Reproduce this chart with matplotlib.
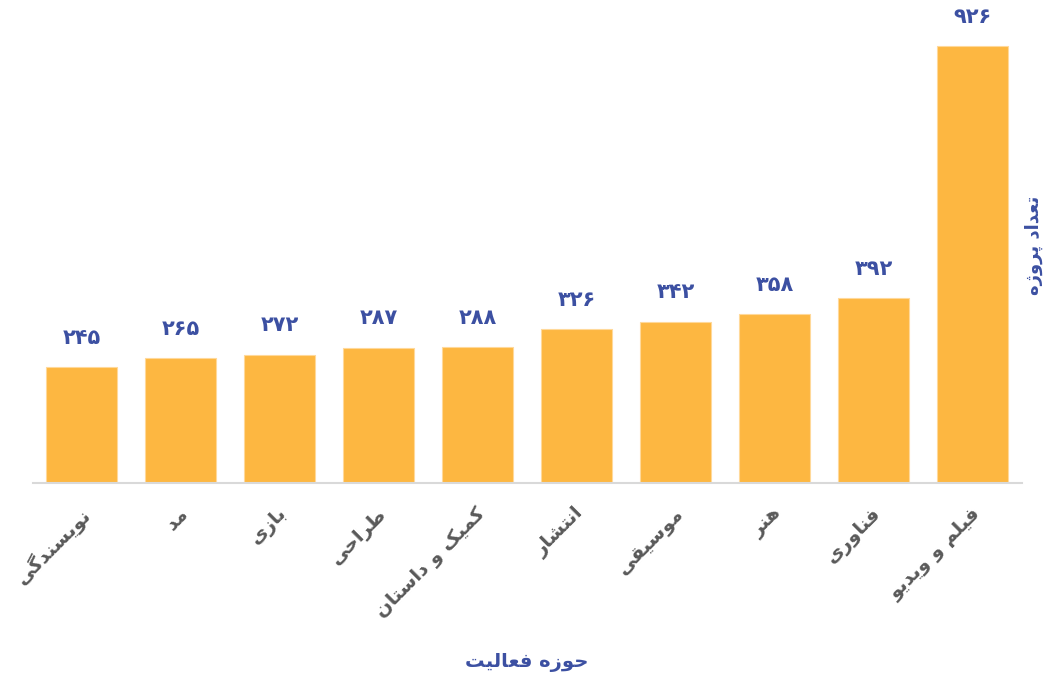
import matplotlib
matplotlib.use("Agg")
import matplotlib.pyplot as plt
import matplotlib.transforms as mtrans

# ---------------- data ----------------
categories = ["نویسندگی", "مد", "بازی", "طراحی", "کمیک و داستان",
              "انتشار", "موسیقی", "هنر", "فناوری", "فیلم و ویدیو"]
values = [245, 265, 272, 287, 288, 326, 342, 358, 392, 926]
x_label = "حوزه فعالیت"
y_label = "تعداد پروژه"

# ---------------- minimal Persian shaping ----------------
FORMS = {  # isolated, final, initial, medial
    "ا": ("\uFE8D", "\uFE8E", None, None),
    "ب": ("\uFE8F", "\uFE90", "\uFE91", "\uFE92"),
    "پ": ("\uFB56", "\uFB57", "\uFB58", "\uFB59"),
    "ت": ("\uFE95", "\uFE96", "\uFE97", "\uFE98"),
    "ح": ("\uFEA1", "\uFEA2", "\uFEA3", "\uFEA4"),
    "د": ("\uFEA9", "\uFEAA", None, None),
    "ر": ("\uFEAD", "\uFEAE", None, None),
    "ز": ("\uFEAF", "\uFEB0", None, None),
    "ژ": ("\uFB8A", "\uFB8B", None, None),
    "س": ("\uFEB1", "\uFEB2", "\uFEB3", "\uFEB4"),
    "ش": ("\uFEB5", "\uFEB6", "\uFEB7", "\uFEB8"),
    "ط": ("\uFEC1", "\uFEC2", "\uFEC3", "\uFEC4"),
    "ع": ("\uFEC9", "\uFECA", "\uFECB", "\uFECC"),
    "ف": ("\uFED1", "\uFED2", "\uFED3", "\uFED4"),
    "ق": ("\uFED5", "\uFED6", "\uFED7", "\uFED8"),
    "ک": ("\uFB8E", "\uFB8F", "\uFB90", "\uFB91"),
    "گ": ("\uFB92", "\uFB93", "\uFB94", "\uFB95"),
    "ل": ("\uFEDD", "\uFEDE", "\uFEDF", "\uFEE0"),
    "م": ("\uFEE1", "\uFEE2", "\uFEE3", "\uFEE4"),
    "ن": ("\uFEE5", "\uFEE6", "\uFEE7", "\uFEE8"),
    "ه": ("\uFEE9", "\uFEEA", "\uFEEB", "\uFEEC"),
    "و": ("\uFEED", "\uFEEE", None, None),
    "ی": ("\uFBFC", "\uFBFD", "\uFBFE", "\uFBFF"),
}


def joins_next(ch):
    return ch in FORMS and FORMS[ch][2] is not None


def shape(text):
    out = []
    n = len(text)
    for i, ch in enumerate(text):
        if ch not in FORMS:
            out.append(ch)
            continue
        prev = text[i - 1] if i > 0 else ""
        nxt = text[i + 1] if i + 1 < n else ""
        from_prev = joins_next(prev)
        to_next = joins_next(ch) and nxt in FORMS
        iso, fin, ini, med = FORMS[ch]
        if from_prev and to_next:
            out.append(med)
        elif from_prev:
            out.append(fin)
        elif to_next:
            out.append(ini)
        else:
            out.append(iso)
    return "".join(out)[::-1]


def fa_digits(num):
    return str(num).translate(str.maketrans("0123456789", "۰۱۲۳۴۵۶۷۸۹"))


# ---------------- plot ----------------
BAR = "#FDB741"
BLUE = "#3C50A2"
GRAY = "#595959"

fig = plt.figure(figsize=(10.45, 6.78), dpi=100)
W, H = 1045, 678
ax = fig.add_axes([33 / W, (678 - 483) / H, (1022 - 33) / W, (483 - 11) / H])

xs = list(range(len(categories)))
ax.bar(xs, values, width=0.72, color=BAR, edgecolor="#FFD99A", linewidth=0.8, zorder=2)
ax.set_xlim(-0.49, 9.5)
ax.set_ylim(0, 1000)

for x, v in zip(xs, values):
    ax.annotate(fa_digits(v), (x, v), xytext=(0, 21), textcoords="offset points",
                ha="center", va="center", fontsize=15, fontweight="bold",
                color=BLUE, family="DejaVu Sans")

ax.set_xticks(xs)
ax.set_xticklabels([shape(c) for c in categories], rotation=45, ha="right",
                   rotation_mode="anchor", fontsize=14, fontweight="bold",
                   color=GRAY, family="DejaVu Sans")
ax.tick_params(axis="x", length=0, pad=15)
offset = mtrans.ScaledTranslation(-2 / 100, 0, fig.dpi_scale_trans)
for lbl in ax.get_xticklabels():
    lbl.set_transform(lbl.get_transform() + offset)

ax.set_yticks([])
for s in ["top", "right", "left"]:
    ax.spines[s].set_visible(False)
ax.spines["bottom"].set_color("#D9D9D9")
ax.spines["bottom"].set_linewidth(1.5)

fig.text(527 / W, 1 - 663 / H, shape(x_label), ha="center", va="center",
         fontsize=14, fontweight="bold", color=BLUE, family="DejaVu Sans")
fig.text(1034 / W, 1 - 245 / H, shape(y_label), ha="center", va="center",
         rotation=90, fontsize=13, fontweight="bold", color=BLUE, family="DejaVu Sans")

fig.savefig("out.png", dpi=100)
